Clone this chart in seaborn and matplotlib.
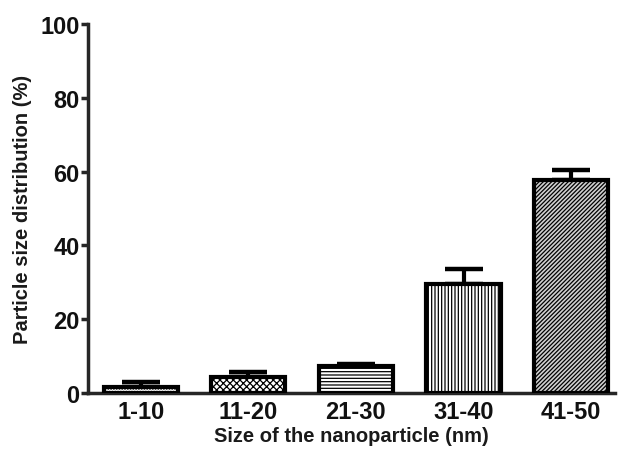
import matplotlib
matplotlib.use("Agg")
import matplotlib.pyplot as plt
import seaborn as sns
import pandas as pd
import numpy as np

categories = ["1-10", "11-20", "21-30", "31-40", "41-50"]
values = [1.7, 4.3, 7.2, 29.5, 57.6]
errors = [1.3, 1.4, 0.6, 4.0, 2.8]
hatches = ["......", "xxxxx", "-----", "|||||", "////////"]
fills = ["white", "white", "white", "white", "#d0d0d0"]

sns.set_style("ticks")
plt.rcParams["font.family"] = ["Liberation Sans", "DejaVu Sans"]
plt.rcParams["hatch.linewidth"] = 0.9

df = pd.DataFrame({"size": categories, "pct": values})

fig = plt.figure(figsize=(6.24, 4.56), dpi=100)
ax = fig.add_axes([0.141, 0.136, 0.845, 0.809])

sns.barplot(data=df, x="size", y="pct", order=categories, errorbar=None,
            width=0.69, color="white", edgecolor="black", linewidth=3, ax=ax, zorder=3)
for patch, h, fc in zip(ax.patches, hatches, fills):
    patch.set_hatch(h)
    patch.set_facecolor(fc)

xs = np.arange(len(categories))
ax.errorbar(xs, values, yerr=[np.zeros(len(values)), errors], fmt="none",
            ecolor="black", elinewidth=3, capsize=14, capthick=3.2, zorder=2)

ax.set_xlim(-0.49, 4.41)
ax.set_ylim(0, 100)
ax.set_yticks([0, 20, 40, 60, 80, 100])
ax.set_xlabel("Size of the nanoparticle (nm)", fontsize=14.5, fontweight="bold",
              color="#1a1a1a", labelpad=2)
ax.set_ylabel("Particle size distribution (%)", fontsize=14.5, fontweight="bold",
              color="#1a1a1a", labelpad=6)
ax.tick_params(axis="y", labelsize=17, width=2.5, length=5, pad=1, direction="out",
               labelcolor="#111111")
ax.tick_params(axis="x", labelsize=17, length=0, pad=5, labelcolor="#111111")
for lab in ax.get_xticklabels() + ax.get_yticklabels():
    lab.set_fontweight("bold")
for s in ["left", "bottom"]:
    ax.spines[s].set_linewidth(2.5)
sns.despine(ax=ax)

fig.savefig("out.png", dpi=100)
